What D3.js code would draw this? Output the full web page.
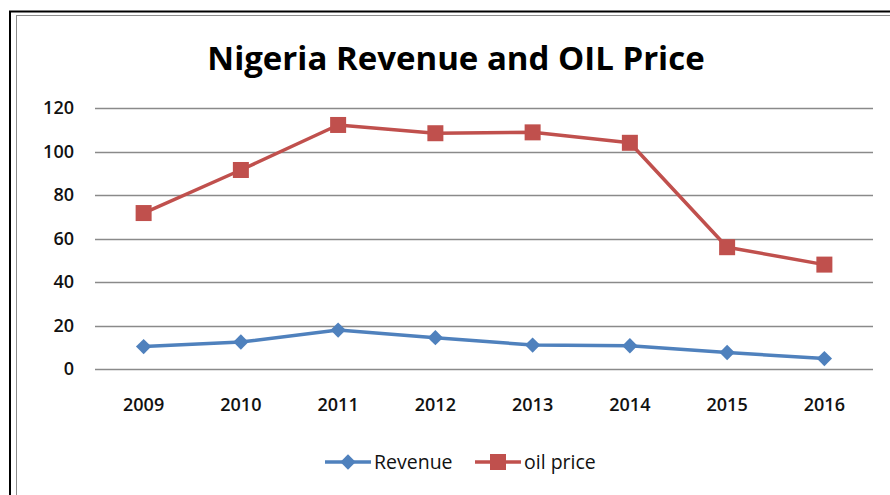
<!DOCTYPE html>
<html lang="en">
<head>
  <meta charset="UTF-8">
  <title>Nigeria Revenue and OIL Price</title>
  <style>
    body { margin: 0; background: #fff; }
    svg { display: block; }
  </style>
</head>
<body>

  <svg id="svg" width="890" height="495"></svg>

  <script src="https://d3js.org/d3.v7.min.js"></script>
  <script>
    const years = ['2009', '2010', '2011', '2012', '2013', '2014', '2015', '2016']
    const revenue = [10.3, 12.4, 17.9, 14.4, 11, 10.7, 7.6, 4.8]
    const oilPrice = [71.7, 91.5, 112.2, 108.4, 108.8, 104, 56, 48]
    const yTicks = [0, 20, 40, 60, 80, 100, 120]

    const font = '"Open Sans", "DejaVu Sans", sans-serif'
    const blue = '#4f81bd'
    const red = '#c0504d'

    const svg = d3.select('#svg')

    // frame (outer black + inner grey), runs off right/bottom edge
    svg.append('rect')
      .attr('x', 10).attr('y', 11.5).attr('width', 900).attr('height', 520)
      .attr('fill', 'none').attr('stroke', '#000').attr('stroke-width', 2)
    svg.append('rect')
      .attr('x', 16.5).attr('y', 15.5).attr('width', 900).attr('height', 520)
      .attr('fill', 'none').attr('stroke', '#8c8c8c').attr('stroke-width', 1)

    const xScale = d3.scaleBand()
      .domain(years)
      .range([95, 873])
    const yScale = d3.scaleLinear()
      .domain([0, 120])
      .range([369, 108])

    const cx = d => xScale(d) + xScale.bandwidth() / 2

    // title
    svg.append('text')
      .attr('x', 456).attr('y', 70)
      .attr('text-anchor', 'middle')
      .attr('font-family', font).attr('font-weight', 'bold')
      .attr('font-size', 33)
      .attr('fill', '#000')
      .text('Nigeria Revenue and OIL Price')

    // gridlines
    svg.append('g')
      .selectAll('line')
      .data(yTicks)
      .enter()
      .append('line')
      .attr('x1', 95).attr('x2', 873)
      .attr('y1', d => Math.round(yScale(d)) + 0.5)
      .attr('y2', d => Math.round(yScale(d)) + 0.5)
      .attr('stroke', '#8a8a8a')
      .attr('stroke-width', 1.3)

    // y labels
    svg.append('g')
      .selectAll('text')
      .data(yTicks)
      .enter()
      .append('text')
      .attr('x', 74)
      .attr('y', d => yScale(d))
      .attr('dy', '0.35em')
      .attr('text-anchor', 'end')
      .attr('font-family', font).attr('font-weight', 600)
      .attr('font-size', 18)
      .attr('fill', '#111')
      .text(d => d)

    // x labels
    svg.append('g')
      .selectAll('text')
      .data(years)
      .enter()
      .append('text')
      .attr('x', cx)
      .attr('y', 411)
      .attr('text-anchor', 'middle')
      .attr('font-family', font).attr('font-weight', 600)
      .attr('font-size', 18)
      .attr('fill', '#111')
      .text(d => d)

    const line = d3.line()
      .x((d, i) => cx(years[i]))
      .y(d => yScale(d))

    const diamond = d3.symbol().type(d3.symbolDiamond2).size(150)

    // revenue series
    svg.append('path')
      .datum(revenue)
      .attr('d', line)
      .attr('fill', 'none').attr('stroke', blue).attr('stroke-width', 3.5)
      .attr('stroke-linejoin', 'round')
    svg.append('g')
      .selectAll('path')
      .data(revenue)
      .enter()
      .append('path')
      .attr('d', diamond)
      .attr('transform', (d, i) => `translate(${cx(years[i])},${yScale(d)})`)
      .attr('fill', blue)

    // oil price series
    svg.append('path')
      .datum(oilPrice)
      .attr('d', line)
      .attr('fill', 'none').attr('stroke', red).attr('stroke-width', 3.5)
      .attr('stroke-linejoin', 'round')
    svg.append('g')
      .selectAll('rect')
      .data(oilPrice)
      .enter()
      .append('rect')
      .attr('x', (d, i) => cx(years[i]) - 8)
      .attr('y', d => yScale(d) - 8)
      .attr('width', 16).attr('height', 16)
      .attr('fill', red)

    // legend
    const legend = svg.append('g')
    const items = [
      { name: 'Revenue', color: blue, x: 325, marker: 'diamond' },
      { name: 'oil price', color: red, x: 475, marker: 'square' }
    ]
    items.forEach(it => {
      legend.append('line')
        .attr('x1', it.x).attr('x2', it.x + 46)
        .attr('y1', 462).attr('y2', 462)
        .attr('stroke', it.color).attr('stroke-width', 3.5)
      if (it.marker === 'diamond') {
        legend.append('path')
          .attr('d', diamond)
          .attr('transform', `translate(${it.x + 23},462)`)
          .attr('fill', it.color)
      } else {
        legend.append('rect')
          .attr('x', it.x + 15).attr('y', 454)
          .attr('width', 16).attr('height', 16)
          .attr('fill', it.color)
      }
      legend.append('text')
        .attr('x', it.x + 49).attr('y', 462)
        .attr('dy', '0.35em')
        .attr('font-family', font)
        .attr('font-size', 19.5)
        .attr('fill', '#111')
        .text(it.name)
    })
  </script>
</body>
</html>
